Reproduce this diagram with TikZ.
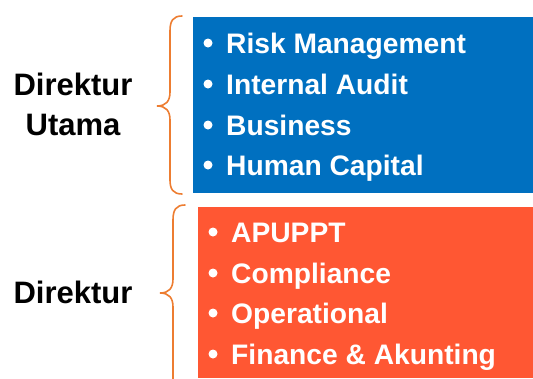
\documentclass[tikz,border=0pt]{standalone}
\usepackage{fontspec}
\setmainfont{Liberation Sans}
\definecolor{boxblue}{HTML}{0070C0}
\definecolor{boxred}{HTML}{FF5733}
\definecolor{braceor}{HTML}{ED7D31}
\begin{document}
\begin{tikzpicture}[x=1pt,y=-1pt,
  lbl/.style={font=\fontsize{31}{31}\selectfont\bfseries, inner sep=0pt},
  itemtxt/.style={font=\fontsize{28.2}{28.2}\selectfont\bfseries, inner sep=0pt, text=white},
  item/.style={itemtxt, anchor=base west},
  bul/.style={circle, fill=white, inner sep=0pt, minimum size=9pt},
  bracepath/.style={draw=braceor, line width=1.6pt, line cap=round}]
\useasboundingbox (0,0) rectangle (533,378);
\node[fill=boxblue, inner sep=0pt, minimum width=340pt, minimum height=176pt, anchor=north west] (blue) at (193,17) {};
\node[fill=boxred, inner sep=0pt, minimum width=335pt, minimum height=171pt, anchor=north west] (red) at (198,207) {};
% braces
\draw[bracepath] (182,16) .. controls (173,16) and (170,21) .. (170,31) -- (170,92) .. controls (170,101) and (166,106) .. (157,106) .. controls (166,106) and (170,111) .. (170,120) -- (170,180) .. controls (170,189) and (173,194) .. (182,194);
\draw[bracepath] (185,205) .. controls (176,205) and (173,210) .. (173,220) -- (173,279) .. controls (173,288) and (169,293) .. (160,293) .. controls (169,293) and (173,298) .. (173,307) -- (173,380);
% left labels
\node[lbl, anchor=base] (du1) at (73,95) {Direktur};
\node[lbl, anchor=base] (du2) at (73,135) {Utama};
\node[lbl, anchor=base] (dk) at (73,303) {Direktur};
% blue items
\node[bul] (b1) at (208,43) {};
\node[item] (t1) at (226,53) {Risk Management};
\node[bul] (b2) at (208,84) {};
\node[item] (t2) at (226,94) {Internal Audit};
\node[bul] (b3) at (208,125) {};
\node[item] (t3) at (226,135) {Business};
\node[bul] (b4) at (208,165) {};
\node[item] (t4) at (226,175) {Human Capital};
% red items
\node[bul] (r1) at (213,232) {};
\node[item] (s1) at (231,242) {APUPPT};
\node[bul] (r2) at (213,273) {};
\node[item] (s2) at (231,283) {Compliance};
\node[bul] (r3) at (213,313) {};
\node[item] (s3) at (231,323) {Operational};
\node[bul] (r4) at (213,354) {};
\node[item] (s4) at (231,364) {Finance \& Akunting};
\end{tikzpicture}
\end{document}
